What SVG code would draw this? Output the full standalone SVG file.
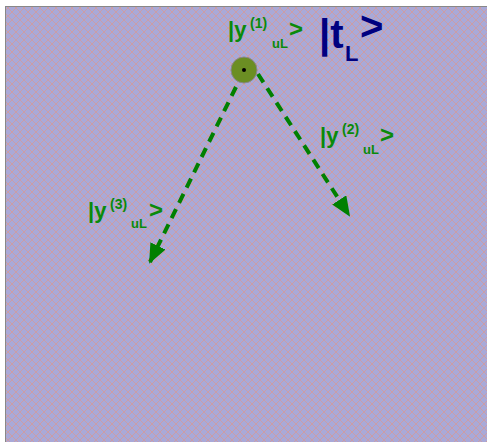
<svg xmlns="http://www.w3.org/2000/svg" width="487" height="442" viewBox="0 0 487 442">
<defs>
<pattern id="hatch" width="8" height="8" patternUnits="userSpaceOnUse">
<rect width="8" height="8" fill="#A9A9D8"/>
<path d="M0,0 L8,8 M8,0 L0,8 M-1,7 L1,9 M7,-1 L9,1 M-1,1 L1,-1 M7,9 L9,7" stroke="#D39A9A" stroke-width="1" opacity="0.8"/>
</pattern>
<marker id="ah" viewBox="0 0 10 10" refX="9" refY="5" markerWidth="5" markerHeight="4.2" orient="auto" markerUnits="strokeWidth" preserveAspectRatio="none">
<path d="M0,0 L10,5 L0,10 Z" fill="#008000"/>
</marker>
<style>
.g{fill:#0a8a0a;font-family:"Liberation Sans",Arial,sans-serif;font-weight:bold}
.b{fill:#000080;font-family:"Liberation Sans",Arial,sans-serif;font-weight:bold}
.c{stroke:#008000;stroke-width:4;stroke-dasharray:10,7;fill:none}
</style>
</defs>
<rect x="5.5" y="6.5" width="490" height="440" fill="url(#hatch)" stroke="#888" stroke-width="1"/>
<g id="connectors">
<line class="c" x1="236" y1="87" x2="150" y2="262" marker-end="url(#ah)"/>
<line class="c" x1="258" y1="74" x2="349" y2="215" marker-end="url(#ah)"/>
</g>
<g id="node-tL">
<circle cx="244" cy="70" r="13" fill="#6B8E23" stroke="#888" stroke-width="1"/>
<circle cx="244" cy="70" r="2" fill="#000"/>
<text class="b" x="319" y="48" font-size="40">|t</text>
<text class="b" x="345" y="61" font-size="22">L</text>
<text class="b" x="360" y="40" font-size="40">&gt;</text>
</g>
<g id="label-y1">
<text class="g" x="228" y="37" font-size="22">|y</text>
<text class="g" x="250" y="28" font-size="14">(1)</text>
<text class="g" x="272" y="48" font-size="13">uL</text>
<text class="g" x="289" y="37" font-size="24">&gt;</text>
</g>
<g id="label-y2">
<text class="g" x="320" y="143" font-size="22">|y</text>
<text class="g" x="342" y="134" font-size="14">(2)</text>
<text class="g" x="363" y="154" font-size="13">uL</text>
<text class="g" x="380" y="143" font-size="24">&gt;</text>
</g>
<g id="label-y3">
<text class="g" x="88" y="218" font-size="22">|y</text>
<text class="g" x="110" y="209" font-size="14">(3)</text>
<text class="g" x="131" y="228" font-size="13">uL</text>
<text class="g" x="149" y="218" font-size="24">&gt;</text>
</g>
</svg>
